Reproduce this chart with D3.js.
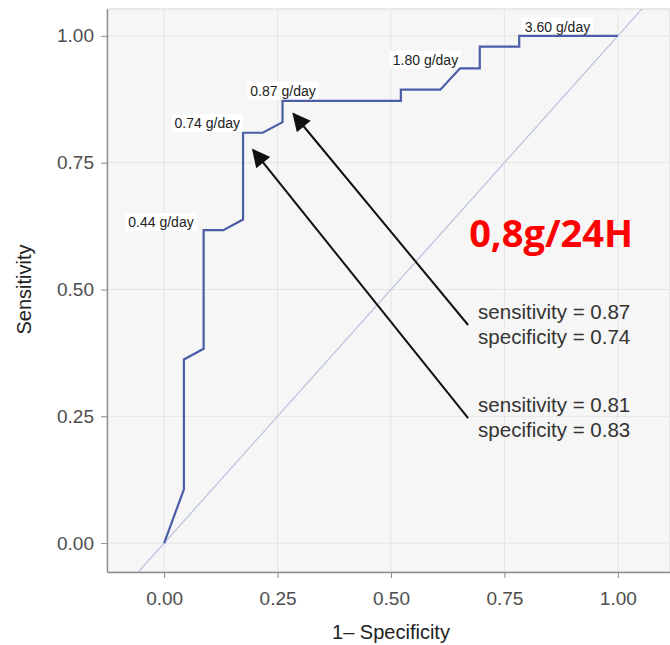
<!DOCTYPE html>
<html>
<head>
<meta charset="utf-8">
<script src="https://cdn.jsdelivr.net/npm/d3@7"></script>
<style>
  body { margin: 0; background: #fff; }
  svg { display: block; font-family: "Liberation Sans", Arial, sans-serif; }
</style>
</head>
<body>
<div id="chart"></div>
<script>
// ROC curve: 1 - specificity (x) vs sensitivity (y)
const fpr = [0, 0.0435, 0.0435, 0.087, 0.087, 0.1304, 0.1739, 0.1739, 0.2174, 0.2609, 0.2609,
             0.5217, 0.5217, 0.6087, 0.6522, 0.6957, 0.6957, 0.7826, 0.7826, 1];
const tpr = [0, 0.106, 0.362, 0.383, 0.617, 0.617, 0.638, 0.809, 0.809, 0.830, 0.872,
             0.872, 0.894, 0.894, 0.936, 0.936, 0.979, 0.979, 1, 1];

const tickValues = [0, 0.25, 0.5, 0.75, 1];
const tickLabels = ["0.00", "0.25", "0.50", "0.75", "1.00"];

// threshold labels and where they sit (data units)
const cutLabels = ["0.44 g/day", "0.74 g/day", "0.87 g/day", "1.80 g/day", "3.60 g/day"];
const cutX = [-0.007, 0.095, 0.262, 0.576, 0.867];
const cutY = [0.633, 0.828, 0.892, 0.953, 1.018];

// annotations with arrows
const noteLines = [["sensitivity = 0.87", "specificity = 0.74"],
                   ["sensitivity = 0.81", "specificity = 0.83"]];
const noteX = [0.692, 0.692];
const noteY = [0.456, 0.272];
const arrowFrom = [[0.670, 0.430], [0.670, 0.2465]];
const arrowTo = [[0.285, 0.846], [0.196, 0.775]];

const W = 670, H = 645;
const svg = d3.select("#chart").append("svg").attr("width", W).attr("height", H);

const x = d3.scaleLinear().domain([-0.126, 1.115]).range([107, 670]);
const y = d3.scaleLinear().domain([-0.057, 1.053]).range([572, 9]);

// panel
svg.append("rect")
    .attr("x", x(-0.126)).attr("y", y(1.053))
    .attr("width", x(1.115) - x(-0.126)).attr("height", y(-0.057) - y(1.053))
    .attr("fill", "#f6f6f6")
    .attr("stroke", "#d6d6d6");

svg.append("clipPath").attr("id", "clip")
  .append("rect")
    .attr("x", x(-0.126)).attr("y", y(1.053))
    .attr("width", x(1.115) - x(-0.126)).attr("height", y(-0.057) - y(1.053));

// grid
const grid = svg.append("g").attr("stroke", "#e4e4e4").attr("stroke-width", 1);
tickValues.forEach(v => {
    grid.append("line").attr("x1", x(v)).attr("x2", x(v)).attr("y1", y(-0.057)).attr("y2", y(1.053));
    grid.append("line").attr("y1", y(v)).attr("y2", y(v)).attr("x1", x(-0.126)).attr("x2", x(1.115));
});

// axes
const xAxis = svg.append("g")
    .attr("transform", `translate(0,${y(-0.057)})`)
    .call(d3.axisBottom(x).tickValues(tickValues).tickFormat((d, i) => tickLabels[i])
        .tickSize(6).tickSizeOuter(0).tickPadding(10));
const yAxis = svg.append("g")
    .attr("transform", `translate(${x(-0.126)},0)`)
    .call(d3.axisLeft(y).tickValues(tickValues).tickFormat((d, i) => tickLabels[i])
        .tickSize(6).tickSizeOuter(0).tickPadding(7));
[xAxis, yAxis].forEach(a => {
    a.select(".domain").attr("stroke", "#8c8c8c").attr("stroke-width", 1.3);
    a.selectAll(".tick line").attr("stroke", "#8c8c8c");
    a.selectAll(".tick text").attr("fill", "#4d4d4d").style("font-size", "19px");
});
xAxis.selectAll(".tick text").attr("dy", "0.9em");

// axis titles
svg.append("text")
    .attr("x", x(0.5)).attr("y", 639)
    .attr("text-anchor", "middle")
    .attr("fill", "#222").style("font-size", "20px")
    .text("1\u2013 Specificity");
svg.append("text")
    .attr("transform", `translate(31,${y(0.5)}) rotate(-90)`)
    .attr("text-anchor", "middle")
    .attr("fill", "#222").style("font-size", "20px")
    .text("Sensitivity");

const plot = svg.append("g").attr("clip-path", "url(#clip)");

// reference diagonal
plot.append("line")
    .attr("x1", x(-0.2)).attr("y1", y(-0.2))
    .attr("x2", x(1.2)).attr("y2", y(1.2))
    .attr("stroke", "#b9c1de").attr("stroke-width", 1.2);

// threshold labels with white boxes
cutLabels.forEach((t, i) => {
    const g = plot.append("g");
    const txt = g.append("text")
        .attr("x", x(cutX[i])).attr("y", y(cutY[i]))
        .attr("text-anchor", "middle").attr("dy", "0.35em")
        .attr("fill", "#222").style("font-size", "14px")
        .text(t);
    const bb = txt.node().getBBox();
    g.insert("rect", "text")
        .attr("x", bb.x - 3).attr("y", bb.y - 1)
        .attr("width", bb.width + 6).attr("height", bb.height + 2)
        .attr("fill", "#fff");
});

// ROC curve
const line = d3.line().x((d, i) => x(fpr[i])).y((d, i) => y(tpr[i]));
plot.append("path")
    .datum(fpr)
    .attr("fill", "none")
    .attr("stroke", "#4b5da6")
    .attr("stroke-width", 2.2)
    .attr("stroke-linejoin", "miter")
    .attr("d", line);

// arrows
svg.append("defs").append("marker")
    .attr("id", "head")
    .attr("viewBox", "0 0 10 10")
    .attr("refX", 9).attr("refY", 5)
    .attr("markerWidth", 23).attr("markerHeight", 18)
    .attr("markerUnits", "userSpaceOnUse")
    .attr("orient", "auto")
  .append("path")
    .attr("d", "M0,0 L10,5 L0,10 Z")
    .attr("fill", "#111");

arrowFrom.forEach((f, i) => {
    svg.append("line")
        .attr("x1", x(f[0])).attr("y1", y(f[1]))
        .attr("x2", x(arrowTo[i][0])).attr("y2", y(arrowTo[i][1]))
        .attr("stroke", "#111").attr("stroke-width", 2)
        .attr("marker-end", "url(#head)");
});

// annotation text
noteLines.forEach((lines, i) => {
    const t = svg.append("text")
        .attr("x", x(noteX[i])).attr("y", y(noteY[i]))
        .attr("fill", "#333").style("font-size", "20.5px");
    lines.forEach((l, j) => {
        t.append("tspan").attr("x", x(noteX[i])).attr("dy", j === 0 ? "0.35em" : "1.2em").text(l);
    });
});

// red highlight
svg.append("text")
    .attr("x", x(0.853)).attr("y", y(0.611))
    .attr("text-anchor", "middle").attr("dy", "0.36em")
    .attr("fill", "#ff0000")
    .style("font-family", "'Open Sans', sans-serif")
    .style("font-weight", "bold").style("font-size", "38px")
    .text("0,8g/24H");
</script>
</body>
</html>
